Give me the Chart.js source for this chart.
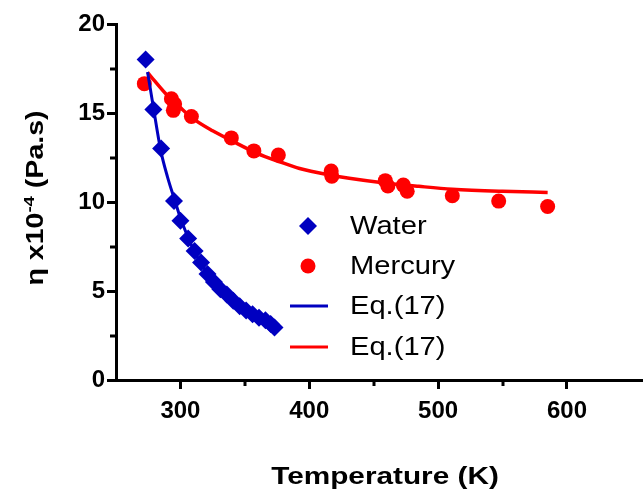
<!DOCTYPE html>
<html lang="en">
<head>
<meta charset="UTF-8">
<title>Viscosity vs temperature</title>
<script src="https://cdn.jsdelivr.net/npm/chart.js"></script>
<style>
  html, body { margin: 0; padding: 0; background: #fff; }
  #wrap { width: 643px; height: 494px; position: relative; }
</style>
</head>
<body>
<div id="wrap"><canvas id="chart" width="643" height="494"></canvas></div>
<script>
const waterT   = [273, 279, 285, 295, 300, 306, 311, 316, 321, 326, 331, 336, 341, 346, 351, 356, 361, 366, 370, 373];
const waterEta = [18.0, 15.2, 13.0, 10.05, 8.95, 7.95, 7.25, 6.6, 5.95, 5.5, 5.1, 4.8, 4.45, 4.15, 3.9, 3.7, 3.5, 3.35, 3.15, 2.95];

const mercuryT   = [272, 293, 295.5, 294.5, 308.5, 339.5, 357, 376, 417, 417.5, 459, 461, 473, 476, 511, 547, 585];
const mercuryEta = [16.65, 15.8, 15.5, 15.15, 14.8, 13.6, 12.87, 12.64, 11.74, 11.45, 11.2, 10.9, 10.95, 10.6, 10.35, 10.05, 9.75];

// Eq.(17) curves
const waterFitT   = [274.5, 278.7, 284.7, 290, 295.6, 300, 306, 311, 316, 321, 331, 341, 351, 361, 373];
const waterFitEta = [17.3, 15.45, 12.9, 11.4, 10.1, 9.1, 8.0, 7.2, 6.55, 6.0, 5.1, 4.4, 3.85, 3.4, 2.95];

const mercuryFitT   = [274.5, 280, 289, 300, 309.5, 325, 339.6, 360, 377, 392.5, 417, 431, 457, 485, 511, 550, 585];
const mercuryFitEta = [17.28, 16.8, 16.05, 15.3, 14.7, 14.0, 13.45, 12.72, 12.26, 11.88, 11.5, 11.33, 11.08, 10.88, 10.72, 10.6, 10.54];

const xTicks = [300, 400, 500, 600];
const xMinor = [350, 450, 550];
const yTicks = [0, 5, 10, 15, 20];
const yMinor = [2.5, 7.5, 12.5, 17.5];

const BLUE = '#0000C0';
const RED = '#FF0000';
const FONT = '"Liberation Sans", Arial, sans-serif';
const STRETCH = 1.24; // the original lettering is a bit wide

const pts = (xs, ys) => xs.map((x, i) => ({ x: x, y: ys[i] }));

// draws text horizontally stretched around its own anchor
function wideText(ctx, txt, x, y, sx) {
    ctx.save();
    ctx.translate(x, y);
    ctx.scale(sx, 1);
    ctx.fillText(txt, 0, 0);
    ctx.restore();
}

// minor ticks, axis titles and the in-plot legend
const extras = {
    id: 'extras',
    afterDraw(chart) {
        const ctx = chart.ctx;
        const a = chart.chartArea;
        const xs = chart.scales.x, ys = chart.scales.y;
        ctx.save();
        ctx.strokeStyle = '#000';
        ctx.lineWidth = 3;
        xMinor.forEach(v => {
            const px = Math.round(xs.getPixelForValue(v));
            ctx.beginPath(); ctx.moveTo(px, a.bottom); ctx.lineTo(px, a.bottom + 6); ctx.stroke();
        });
        yMinor.forEach(v => {
            const py = Math.round(ys.getPixelForValue(v));
            ctx.beginPath(); ctx.moveTo(a.left, py); ctx.lineTo(a.left - 6, py); ctx.stroke();
        });

        // x title
        ctx.fillStyle = '#000';
        ctx.font = 'bold 24px ' + FONT;
        ctx.textAlign = 'center';
        ctx.textBaseline = 'alphabetic';
        wideText(ctx, 'Temperature (K)', 385, 484, STRETCH);

        // y title with superscript
        ctx.translate(43, 198);
        ctx.rotate(-Math.PI / 2);
        ctx.scale(STRETCH, 1);
        ctx.textAlign = 'left';
        const big = 'bold 23px ' + FONT, small = 'bold 15px ' + FONT;
        const p1 = 'η x10', p2 = '-4', p3 = ' (Pa.s)';
        ctx.font = big; const w1 = ctx.measureText(p1).width, w3 = ctx.measureText(p3).width;
        ctx.font = small; const w2 = ctx.measureText(p2).width;
        let x0 = -(w1 + w2 + w3) / 2;
        ctx.font = big; ctx.fillText(p1, x0, 0);
        ctx.font = small; ctx.fillText(p2, x0 + w1, -9);
        ctx.font = big; ctx.fillText(p3, x0 + w1 + w2, 0);
        ctx.restore();

        // legend
        ctx.save();
        const rows = [
            { label: chart.data.datasets[0].label, kind: 'diamond', color: BLUE, y: 226 },
            { label: chart.data.datasets[1].label, kind: 'circle', color: RED, y: 266 },
            { label: chart.data.datasets[2].label, kind: 'line', color: BLUE, y: 306 },
            { label: chart.data.datasets[3].label, kind: 'line', color: RED, y: 347 }
        ];
        rows.forEach(r => {
            ctx.fillStyle = r.color;
            ctx.strokeStyle = r.color;
            if (r.kind === 'diamond') {
                ctx.beginPath();
                ctx.moveTo(308, r.y - 9); ctx.lineTo(317, r.y); ctx.lineTo(308, r.y + 9); ctx.lineTo(299, r.y);
                ctx.closePath(); ctx.fill();
            } else if (r.kind === 'circle') {
                ctx.beginPath(); ctx.arc(308, r.y, 7.5, 0, Math.PI * 2); ctx.fill();
            } else {
                ctx.lineWidth = 3;
                ctx.beginPath(); ctx.moveTo(290, r.y); ctx.lineTo(328, r.y); ctx.stroke();
            }
            ctx.fillStyle = '#000';
            ctx.font = '26px ' + FONT;
            ctx.textAlign = 'left';
            ctx.textBaseline = 'middle';
            wideText(ctx, r.label, 350, r.y + 1, 1.12);
        });
        ctx.restore();
    }
};

const ctx = document.getElementById('chart').getContext('2d');
const chart = new Chart(ctx, {
    type: 'scatter',
    data: {
        datasets: [
            {
                label: 'Water',
                data: pts(waterT, waterEta),
                pointStyle: 'rectRot',
                pointRadius: 9,
                pointHoverRadius: 9,
                backgroundColor: BLUE,
                borderColor: BLUE,
                borderWidth: 0,
                showLine: false,
                order: 1
            },
            {
                label: 'Mercury',
                data: pts(mercuryT, mercuryEta),
                pointStyle: 'circle',
                pointRadius: 7.5,
                pointHoverRadius: 7.5,
                backgroundColor: RED,
                borderColor: RED,
                borderWidth: 0,
                showLine: false,
                order: 3
            },
            {
                label: 'Eq.(17)',
                data: pts(waterFitT, waterFitEta),
                showLine: true,
                borderColor: BLUE,
                borderWidth: 3,
                pointRadius: 0,
                cubicInterpolationMode: 'monotone',
                order: 0
            },
            {
                label: 'Eq.(17)',
                data: pts(mercuryFitT, mercuryFitEta),
                showLine: true,
                borderColor: RED,
                borderWidth: 3.5,
                pointRadius: 0,
                cubicInterpolationMode: 'monotone',
                order: 2
            }
        ]
    },
    options: {
        responsive: false,
        animation: false,
        layout: { autoPadding: false, padding: { left: 0, top: 24, right: 0, bottom: 0 } },
        plugins: {
            legend: { display: false },
            tooltip: { enabled: false }
        },
        scales: {
            x: {
                type: 'linear',
                min: 250,
                max: 659,
                afterBuildTicks: s => { s.ticks = xTicks.map(v => ({ value: v })); },
                afterFit: s => { s.height = 114; s.paddingLeft = 0; s.paddingRight = 0; },
                border: { display: true, color: '#000', width: 3 },
                grid: { drawOnChartArea: false, tickLength: 9, tickWidth: 3, tickColor: '#000' },
                ticks: {
                    color: '#000',
                    padding: 8,
                    maxRotation: 0,
                    font: { family: FONT, size: 24, weight: 'bold' }
                }
            },
            y: {
                min: 0,
                max: 20,
                afterBuildTicks: s => { s.ticks = yTicks.map(v => ({ value: v })); },
                afterFit: s => { s.width = 116; s.paddingTop = 0; s.paddingBottom = 0; },
                border: { display: true, color: '#000', width: 3 },
                grid: { drawOnChartArea: false, tickLength: 9, tickWidth: 3, tickColor: '#000' },
                ticks: {
                    color: '#000',
                    padding: 2,
                    font: { family: FONT, size: 24, weight: 'bold' }
                }
            }
        }
    },
    plugins: [extras]
});
</script>
</body>
</html>
